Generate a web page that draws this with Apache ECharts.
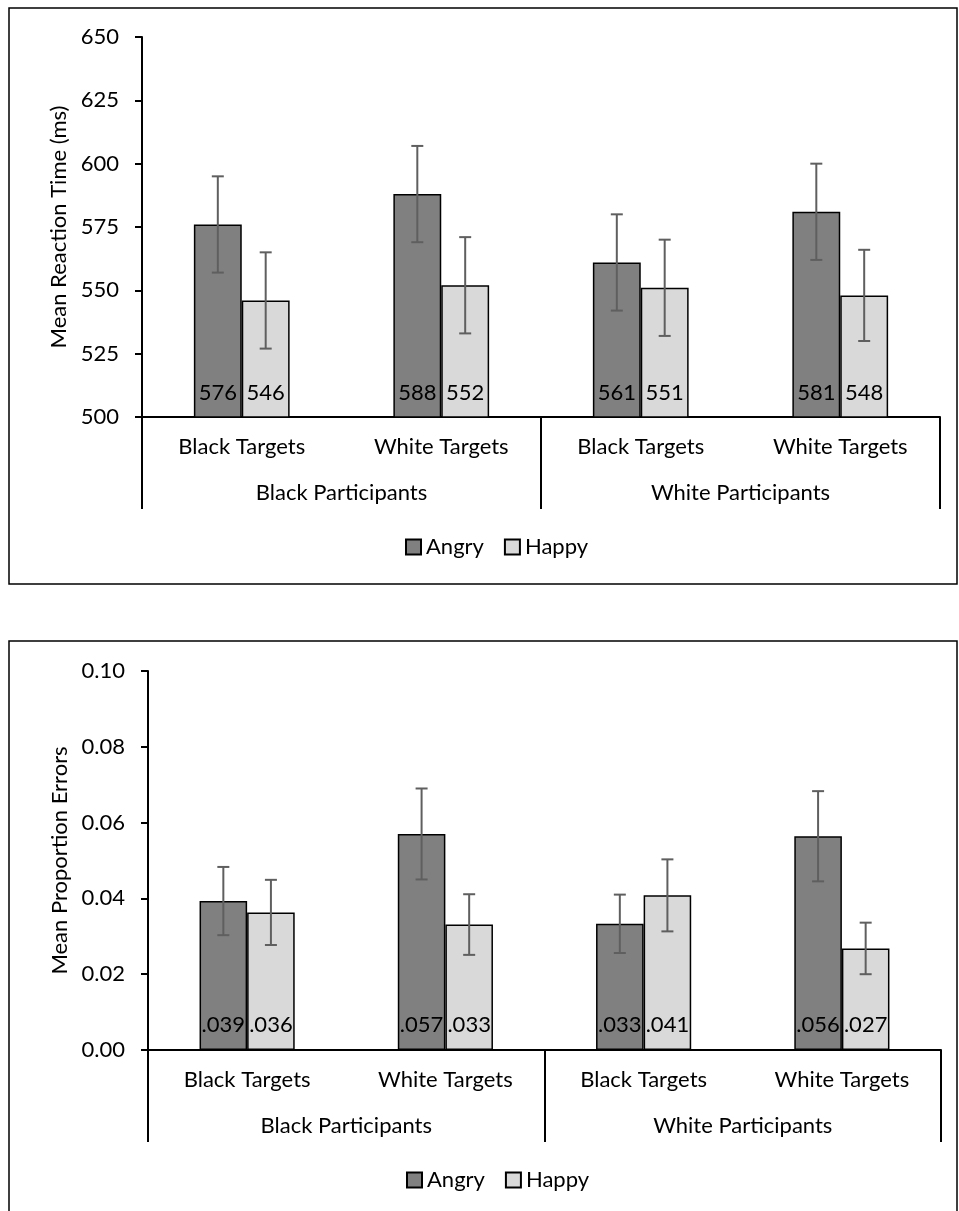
<!DOCTYPE html>
<html><head><meta charset="utf-8">
<script src="https://cdn.jsdelivr.net/npm/echarts@6/dist/echarts.min.js"></script>
<style>html,body{margin:0;padding:0;background:#fff}#c{width:959px;height:1211px}</style>
</head><body><div id="c"></div>
<script>
const categories = ['Black Targets', 'White Targets', 'Black Targets', 'White Targets'];
const groups = ['Black Participants', 'White Participants'];
const seriesNames = ['Angry', 'Happy'];

// Reaction time (ms)
const rtAngry = [576, 588, 561, 581];
const rtHappy = [546, 552, 551, 548];
const rtAngryErr = [19, 19, 19, 19];
const rtHappyErr = [19, 19, 19, 18];
const rtMin = 500, rtMax = 650, rtStep = 25;

// Proportion errors
const peAngry = [0.0393, 0.0570, 0.0333, 0.0564];
const peHappy = [0.0363, 0.0331, 0.0408, 0.0268];
const peAngryErr = [0.0090, 0.0120, 0.0077, 0.0119];
const peHappyErr = [0.0086, 0.0080, 0.0095, 0.0068];
const peMin = 0, peMax = 0.10, peStep = 0.02;

const FONT = 'Lato, "Open Sans", sans-serif';
const FS = 22;
const CAT_GAP = 0.52;
const colors = { Angry: '#808080', Happy: '#d9d9d9' };

function errSeries(name, gridIdx, vals, errs, side) {
  return {
    name: name + ' err', type: 'custom', xAxisIndex: gridIdx * 2, yAxisIndex: gridIdx, z: 10,
    data: vals.map((v, i) => [i, v, errs[i]]),
    encode: { x: 0, y: 1 },
    renderItem: function (params, api) {
      const xi = api.value(0), v = api.value(1), e = api.value(2);
      const bw = api.size([1, 0])[0];
      const barW = bw * (1 - CAT_GAP) / 2;
      const c = api.coord([xi, v]);
      const x = c[0] + side * barW / 2;
      const top = api.coord([xi, v + e])[1];
      const bot = api.coord([xi, v - e])[1];
      const st = { stroke: '#5f5f5f', lineWidth: 2 };
      const cap = 6;
      return { type: 'group', children: [
        { type: 'line', shape: { x1: x, y1: top, x2: x, y2: bot }, style: st },
        { type: 'line', shape: { x1: x - cap, y1: top, x2: x + cap, y2: top }, style: st },
        { type: 'line', shape: { x1: x - cap, y1: bot, x2: x + cap, y2: bot }, style: st }
      ]};
    }
  };
}

function barSeries(name, gridIdx, vals, fmt) {
  return {
    name: name, type: 'bar', xAxisIndex: gridIdx * 2, yAxisIndex: gridIdx,
    data: vals, barGap: '0%', barCategoryGap: (CAT_GAP * 100) + '%',
    itemStyle: { color: colors[name], borderColor: '#000', borderWidth: 1.5 },
    label: { show: true, position: 'insideBottom', distance: 14, color: '#000',
      fontFamily: FONT, fontSize: FS, formatter: p => fmt(p.value) }
  };
}

const rtFmt = v => String(Math.round(v));
const peFmt = v => v.toFixed(3).replace(/^0/, '');

function xAxes(gridIdx) {
  return [
    { type: 'category', gridIndex: gridIdx, data: categories, position: 'bottom',
      axisLine: { show: true, lineStyle: { color: '#000', width: 2 } },
      axisTick: { show: false },
      axisLabel: { color: '#000', fontFamily: FONT, fontSize: FS, margin: 19, interval: 0 } },
    { type: 'category', gridIndex: gridIdx, data: groups, position: 'bottom',
      axisLine: { show: false },
      axisTick: { show: true, length: 92, interval: 0, lineStyle: { color: '#000', width: 2 } },
      axisLabel: { color: '#000', fontFamily: FONT, fontSize: FS, margin: 65, interval: 0 } }
  ];
}

function yAxis(gridIdx, name, min, max, step, fmt, gap) {
  return {
    type: 'value', gridIndex: gridIdx, min: min, max: max, interval: step,
    name: name, nameLocation: 'middle', nameGap: gap,
    nameTextStyle: { color: '#000', fontFamily: FONT, fontSize: FS },
    axisLine: { show: true, lineStyle: { color: '#000', width: 2 } },
    axisTick: { show: true, length: 7, lineStyle: { color: '#000', width: 2 } },
    splitLine: { show: false },
    axisLabel: { color: '#000', fontFamily: FONT, fontSize: FS, margin: 23, formatter: fmt }
  };
}

const chart = echarts.init(document.getElementById('c'), null, { renderer: 'canvas' });
chart.setOption({
  animation: false,
  backgroundColor: '#fff',
  graphic: [
    { type: 'rect', shape: { x: 9, y: 8, width: 948, height: 576 }, style: { fill: 'none', stroke: '#000', lineWidth: 1.5 } },
    { type: 'rect', shape: { x: 9, y: 641, width: 948, height: 600 }, style: { fill: 'none', stroke: '#000', lineWidth: 1.5 } }
  ],
  grid: [
    { left: 142, right: 19, top: 37, height: 380 },
    { left: 148, right: 18, top: 671, height: 379 }
  ],
  legend: [
    { data: seriesNames, left: 405, top: 536, padding: 0, icon: 'rect', itemWidth: 15, itemHeight: 15, itemGap: 20,
      textStyle: { color: '#000', fontFamily: FONT, fontSize: FS } },
    { data: seriesNames, left: 406, top: 1169, padding: 0, icon: 'rect', itemWidth: 15, itemHeight: 15, itemGap: 20,
      textStyle: { color: '#000', fontFamily: FONT, fontSize: FS } }
  ],
  xAxis: [].concat(xAxes(0), xAxes(1)),
  yAxis: [
    yAxis(0, 'Mean Reaction Time (ms)', rtMin, rtMax, rtStep, v => String(v), 72),
    yAxis(1, 'Mean Proportion Errors', peMin, peMax, peStep, v => v.toFixed(2), 77)
  ],
  series: [
    barSeries('Angry', 0, rtAngry, rtFmt),
    barSeries('Happy', 0, rtHappy, rtFmt),
    errSeries('Angry', 0, rtAngry, rtAngryErr, -1),
    errSeries('Happy', 0, rtHappy, rtHappyErr, 1),
    barSeries('Angry', 1, peAngry, peFmt),
    barSeries('Happy', 1, peHappy, peFmt),
    errSeries('Angry', 1, peAngry, peAngryErr, -1),
    errSeries('Happy', 1, peHappy, peHappyErr, 1)
  ]
});
</script></body></html>
